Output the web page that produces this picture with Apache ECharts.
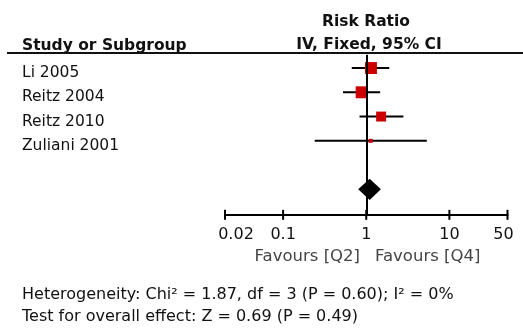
<!DOCTYPE html>
<html>
<head>
<meta charset="utf-8">
<script src="https://cdn.jsdelivr.net/npm/echarts@6/dist/echarts.min.js"></script>
<style>
html,body{margin:0;padding:0;background:#fff;}
#chart{width:523px;height:329px;}
</style>
</head>
<body>
<div id="chart"></div>
<script>
// ---- data ----
const studies = ['Li 2005', 'Reitz 2004', 'Reitz 2010', 'Zuliani 2001'];
const riskRatio = [1.14, 0.88, 1.51, 1.13];
const ciLower = [0.67, 0.525, 0.83, 0.24];
const ciUpper = [1.89, 1.47, 2.80, 5.35];
const weights = [35.6, 35.6, 24.8, 4.0];
const pooled = [0.80, 1.10, 1.50]; // lower, estimate, upper
const tickValues = [0.02, 0.1, 1, 10, 50];
const tickLabels = ['0.02', '0.1', '1', '10', '50'];
const headerTitle = 'Risk Ratio';
const headerSub = 'IV, Fixed, 95% CI';
const headerStudy = 'Study or Subgroup';
const favoursLeft = 'Favours [Q2]';
const favoursRight = 'Favours [Q4]';
const heterogeneity = 'Heterogeneity: Chi² = 1.87, df = 3 (P = 0.60); I² = 0%';
const overallEffect = 'Test for overall effect: Z = 0.69 (P = 0.49)';

const FONT = 'DejaVu Sans';
const pooledRow = studies.length + 1;

const chart = echarts.init(document.getElementById('chart'), null, {renderer: 'canvas'});

function tickIndex(v) {
  let best = 0, bd = Infinity;
  tickValues.forEach((t, i) => {
    const d = Math.abs(Math.log10(v) - Math.log10(t));
    if (d < bd) { bd = d; best = i; }
  });
  return best;
}

const ciData = studies.map((s, i) => [ciLower[i], ciUpper[i], i]);
const pointData = studies.map((s, i) => [riskRatio[i], i]);

const option = {
  backgroundColor: '#fff',
  animation: false,
  grid: {left: 225, right: 15.5, top: 54.7, bottom: 114.2, containLabel: false},
  xAxis: {
    type: 'log', logBase: 10, min: 0.02, max: 50,
    splitLine: {show: false},
    axisLine: {show: true, onZero: false, lineStyle: {color: '#000', width: 2}},
    axisTick: {show: false},
    minorTick: {show: false},
    axisLabel: {show: true, margin: 12, color: '#111', fontFamily: FONT, fontSize: 16,
      customValues: tickValues,
      formatter: function (v) {
        const i = tickIndex(v);
        if (i === 0) return '{first|' + tickLabels[i] + '}';
        if (i === tickValues.length - 1) return '{last|' + tickLabels[i] + '}';
        return tickLabels[i];
      },
      rich: {
        first: {fontFamily: FONT, fontSize: 16, color: '#111', padding: [0, 0, 0, 22]},
        last: {fontFamily: FONT, fontSize: 16, color: '#111', padding: [0, 8, 0, 0]}
      }
    }
  },
  yAxis: {
    type: 'value', min: -0.55, max: 6.05, inverse: true, show: false
  },
  series: [{
    // axis ticks crossing the axis line
    type: 'custom',
    clip: false,
    encode: {x: 0},
    data: tickValues.map(v => [v]),
    renderItem: function (params, api) {
      const p = api.coord([api.value(0), 0]);
      const yAxisPix = params.coordSys.y + params.coordSys.height;
      return {
        type: 'line',
        shape: {x1: p[0], y1: yAxisPix - 5, x2: p[0], y2: yAxisPix + 5},
        style: {stroke: '#000', lineWidth: 2}
      };
    },
    z: 5
  }, {
    type: 'custom',
    clip: false,
    encode: {x: [0, 1], y: 2},
    data: ciData,
    renderItem: function (params, api) {
      const p1 = api.coord([api.value(0), api.value(2)]);
      const p2 = api.coord([api.value(1), api.value(2)]);
      return {
        type: 'group',
        children: [{
          type: 'line',
          shape: {x1: p1[0], y1: p1[1], x2: p2[0], y2: p2[1]},
          style: {stroke: '#000', lineWidth: 2}
        }, {
          type: 'text',
          x: 22, y: p1[1] + 5,
          style: {text: studies[params.dataIndex], fill: '#111', font: '15.5px "' + FONT + '"',
            textAlign: 'left', textVerticalAlign: 'middle'}
        }]
      };
    },
    markLine: {
      silent: true, symbol: 'none', animation: false,
      label: {show: false},
      lineStyle: {color: '#000', width: 2, type: 'solid'},
      data: [{xAxis: 1}]
    },
    z: 2
  }, {
    type: 'scatter',
    symbol: 'rect',
    symbolSize: function (val, params) { return 2 * Math.sqrt(weights[params.dataIndex]); },
    itemStyle: {color: '#cc0000', opacity: 1},
    data: pointData,
    z: 3
  }, {
    type: 'custom',
    clip: false,
    encode: {x: [0, 1, 2], y: 3},
    data: [[pooled[0], pooled[1], pooled[2], pooledRow]],
    renderItem: function (params, api) {
      const l = api.coord([api.value(0), api.value(3)]);
      const c = api.coord([api.value(1), api.value(3)]);
      const r = api.coord([api.value(2), api.value(3)]);
      const top = api.coord([api.value(1), api.value(3) - 0.44]);
      const bot = api.coord([api.value(1), api.value(3) + 0.44]);
      return {
        type: 'polygon',
        shape: {points: [[l[0], l[1]], [c[0], top[1]], [r[0], r[1]], [c[0], bot[1]]]},
        style: {fill: '#000'}
      };
    },
    z: 4
  }],
  graphic: [
    {type: 'line', shape: {x1: 7, y1: 53, x2: 523, y2: 53}, style: {stroke: '#111', lineWidth: 2}, z: 10},
    {type: 'text', x: 366, y: 22, style: {text: headerTitle, fill: '#111', font: 'bold 15.5px "' + FONT + '"', textAlign: 'center', textVerticalAlign: 'middle'}},
    {type: 'text', x: 369, y: 45, style: {text: headerSub, fill: '#111', font: 'bold 15.5px "' + FONT + '"', textAlign: 'center', textVerticalAlign: 'middle'}},
    {type: 'text', x: 22, y: 45.5, style: {text: headerStudy, fill: '#111', font: 'bold 15.5px "' + FONT + '"', textAlign: 'left', textVerticalAlign: 'middle'}},
    {type: 'text', x: 360, y: 257, style: {text: favoursLeft, fill: '#444', font: '16.5px "' + FONT + '"', textAlign: 'right', textVerticalAlign: 'middle'}},
    {type: 'text', x: 375, y: 257, style: {text: favoursRight, fill: '#444', font: '16.5px "' + FONT + '"', textAlign: 'left', textVerticalAlign: 'middle'}},
    {type: 'text', x: 22, y: 295, style: {text: heterogeneity, fill: '#111', font: '16px "' + FONT + '"', textAlign: 'left', textVerticalAlign: 'middle'}},
    {type: 'text', x: 22, y: 317, style: {text: overallEffect, fill: '#111', font: '16px "' + FONT + '"', textAlign: 'left', textVerticalAlign: 'middle'}}
  ]
};
chart.setOption(option);
</script>
</body>
</html>
